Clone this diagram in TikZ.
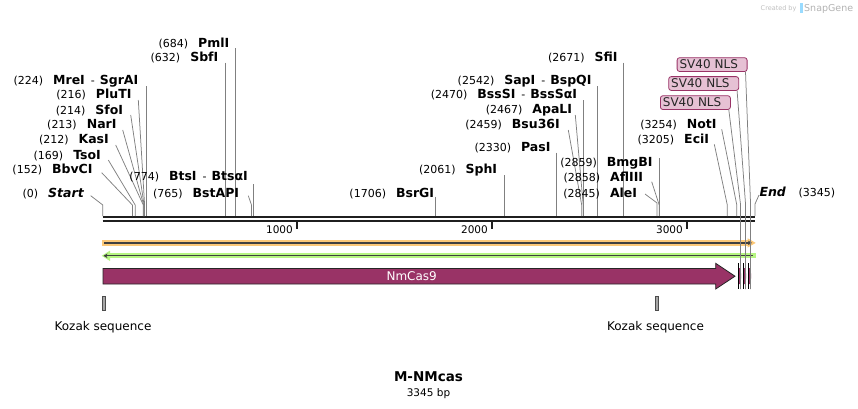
\documentclass[tikz,border=0pt]{standalone}
\usepackage{fontspec}
\setmainfont{DejaVu Sans}
\usetikzlibrary{arrows.meta}
\definecolor{maroon}{RGB}{153,51,102}
\definecolor{nlspink}{RGB}{230,193,212}
\definecolor{orangebar}{RGB}{252,200,120}
\definecolor{greenbar}{RGB}{182,245,130}
\newcommand\enzN{\fontsize{11}{13}\selectfont}
\newcommand\enzB{\fontsize{12.5}{14}\selectfont\bfseries}
\newcommand\enzL[2]{{\enzN(#1)}\hspace{10pt}{\enzB #2}}
\newcommand\enzD[3]{{\enzN(#1)}\hspace{10pt}{\enzB #2}\hspace{6pt}{\enzN-}\hspace{5pt}{\enzB #3}}
\begin{document}
\begin{tikzpicture}[x=1pt,y=-1pt,
  lline/.style={draw=black!50, line width=0.75pt},
  enz/.style={anchor=base east, inner sep=0pt},
  bb/.style={draw=black!88, line width=2.5pt},
  nlsbox/.style={draw=maroon, fill=nlspink, rounded corners=2.5pt, line width=0.8pt,
     inner xsep=2.5pt, inner ysep=0pt, text width=65pt, align=left,
     minimum height=13.8pt, anchor=north west, font=\fontsize{12}{14}\selectfont, text=black!85},
  kozak/.style={draw=black!70, fill=black!35, line width=0.7pt, minimum width=2.7pt,
     minimum height=14pt, inner sep=0pt},
  featlbl/.style={anchor=base, inner sep=0pt, font=\fontsize{12}{14}\selectfont}]
\useasboundingbox (0,0) rectangle (858,408);

% watermark
\node[anchor=base west, inner sep=0pt, text=black!25, font=\fontsize{6.5}{8}\selectfont] (wm1) at (760.5,10) {Created by};
\fill[blue!35!cyan!40] (799.5,3) rectangle (802.5,12.5);
\node[anchor=base west, inner sep=0pt, text=black!30, font=\fontsize{9.5}{11}\selectfont] (wm2) at (804,11) {SnapGene};

% backbone
\coordinate (bbL) at (102.5,217.2);
\coordinate (bbR) at (755,217.2);
\draw[bb] (bbL) -- (bbR);
\draw[bb] (102.5,221.2) -- (755,221.2);

% ticks
\foreach \x/\l in {297/1000, 492/2000, 687/3000}{
  \draw[line width=2pt, black!88] (\x,222) -- (\x,229);
  \node[anchor=base east, inner sep=0pt, font=\fontsize{10.5}{12}\selectfont] at (\x-4,233.3) {\l};
}

% enzyme labels (left)
\node[enz] (pml) at (229.5,47) {\enzL{684}{PmlI}};
\draw[lline] (235.7,48) -- (235.7,216);
\node[enz] (sbf) at (218.5,61.4) {\enzL{632}{SbfI}};
\draw[lline] (225.5,62.7) -- (225.5,216);
\node[enz] (mre) at (138.5,84) {\enzD{224}{MreI}{SgrAI}};
\draw[lline] (146,86) -- (146,216);
\node[enz] (plu) at (131.7,98) {\enzL{216}{PluTI}};
\draw[lline] (138.3,100) -- (144.6,205) -- (144.6,216);
\node[enz] (sfo) at (123.3,114) {\enzL{214}{SfoI}};
\draw[lline] (130.7,115) -- (144.1,205) -- (144.1,216);
\node[enz] (nar) at (116.7,128) {\enzL{213}{NarI}};
\draw[lline] (122.7,130) -- (143.7,205) -- (143.7,216);
\node[enz] (kas) at (109,143) {\enzL{212}{KasI}};
\draw[lline] (115.7,145) -- (143.3,205) -- (143.3,216);
\node[enz] (tso) at (101,159) {\enzL{169}{TsoI}};
\draw[lline] (108.3,160) -- (135.2,205) -- (135.2,216);
\node[enz] (bbv) at (92.7,173) {\enzL{152}{BbvCI}};
\draw[lline] (101.7,172.7) -- (132.4,205) -- (132.4,216);
\node[enz] (start) at (84,197) {{\enzN(0)}\hspace{10pt}{\enzB\itshape Start}};
\draw[lline] (90.7,195.7) -- (102.8,205) -- (102.8,216);
\node[enz] (bts) at (248,180.4) {\enzD{774}{BtsI}{BtsαI}};
\draw[lline] (253.2,184) -- (253.2,216);
\node[enz] (bst) at (239.3,197) {\enzL{765}{BstAPI}};
\draw[lline] (248.3,195.7) -- (251.5,205) -- (251.5,216);

% enzyme labels (middle)
\node[enz] (sfi) at (617.7,61.4) {\enzL{2671}{SfiI}};
\draw[lline] (623.2,62.7) -- (623.2,216);
\node[enz] (sap) at (591.7,84) {\enzD{2542}{SapI}{BspQI}};
\draw[lline] (597.7,86) -- (597.7,216);
\node[enz] (bss) at (577.3,98) {\enzD{2470}{BssSI}{BssSαI}};
\draw[lline] (583.8,100) -- (583.8,216);
\node[enz] (apa) at (572.3,113.8) {\enzL{2467}{ApaLI}};
\draw[lline] (575.3,115) -- (583.2,205) -- (583.2,216);
\node[enz] (bsu) at (560,128) {\enzL{2459}{Bsu36I}};
\draw[lline] (568.3,130) -- (581.7,205) -- (581.7,216);
\node[enz] (pas) at (550.7,151.4) {\enzL{2330}{PasI}};
\draw[lline] (556.6,152.7) -- (556.6,216);
\node[enz] (sph) at (497.3,173) {\enzL{2061}{SphI}};
\draw[lline] (504.2,175) -- (504.2,216);
\node[enz] (bsr) at (434.3,197) {\enzL{1706}{BsrGI}};
\draw[lline] (435.2,196.7) -- (435.2,216);
\node[enz] (bmg) at (652.7,166.4) {\enzL{2859}{BmgBI}};
\draw[lline] (659.6,158.3) -- (659.6,216);
\node[enz] (afl) at (643.3,181.4) {\enzL{2858}{AflIII}};
\draw[lline] (651.7,181.7) -- (659.2,205) -- (659.2,216);
\node[enz] (ale) at (637.3,197) {\enzL{2845}{AleI}};
\draw[lline] (645,194) -- (657.1,203) -- (657.1,216);

% enzyme labels (right)
\node[enz] (not) at (716.7,128.7) {\enzL{3254}{NotI}};
\draw[lline] (721.7,129.3) -- (736.8,205) -- (736.8,216);
\node[enz] (eci) at (709.3,143.7) {\enzL{3205}{EciI}};
\draw[lline] (714.3,144.3) -- (727.3,205) -- (727.3,216);
\node[anchor=base west, inner sep=0pt, font=\enzB\itshape] (endl) at (759.3,196.4) {End};
\node[anchor=base west, inner sep=0pt, font=\enzN] (endn) at (798.3,196.4) {(3345)};
\draw[lline] (759,195) -- (755,204) -- (755,216);

% orange strand arrow
\fill[orangebar] (102,240.3) rectangle (748,245.5);
\fill[orangebar] (747.7,238.3) -- (755.7,242.9) -- (747.7,247.5) -- cycle;
\draw[line width=1.3pt, black!75, -{Stealth[length=4pt,width=4.5pt]}] (104,242.9) -- (752,242.9);

% green strand arrow
\fill[greenbar] (109,253.2) rectangle (755.7,258.4);
\fill[greenbar] (110,250.6) -- (101.7,255.8) -- (110,261) -- cycle;
\draw[line width=1.3pt, black!75, {Stealth[length=4pt,width=4.5pt]}-] (103.5,255.8) -- (753,255.8);

% NmCas9 feature
\draw[fill=maroon, draw=black!85, line width=0.8pt]
  (103,268.5) -- (715.7,268.5) -- (715.7,263.3) -- (735,276.2) -- (715.7,289)
  -- (715.7,284) -- (103,284) -- cycle;
\node[text=white, font=\fontsize{12}{14}\selectfont, inner sep=0pt] (cas) at (411.7,276.2) {NmCas9};

% SV40 NLS features
\foreach \x in {738.3, 743.3, 748.3}{
  \fill[maroon] (\x,268) -- (\x+1.8,268) .. controls (\x+3.2,272) and (\x+3.2,280) .. (\x+1.8,284) -- (\x,284) -- cycle;
  \draw[black, line width=0.9pt] (\x,263.3) -- (\x,289);
}

% SV40 NLS labels
\node[nlsbox] (nls1) at (676.7,57.3) {SV40 NLS};
\node[nlsbox] (nls2) at (668.3,76.2) {SV40 NLS};
\node[nlsbox] (nls3) at (660,95.3) {SV40 NLS};
\draw[lline] (nls1.south east) ++(-2,0) -- (750.6,205) -- (750.6,289);
\draw[lline] (nls2.south east) ++(-2,0) -- (745.6,205) -- (745.6,289);
\draw[lline] (nls3.south east) ++(-2,0) -- (740.6,205) -- (740.6,289);

% Kozak sequences
\node[kozak] (koz1) at (103.7,303.7) {};
\node[featlbl] (kozl1) at (103,330.3) {Kozak sequence};
\node[kozak] (koz2) at (656.8,303.7) {};
\node[featlbl] (kozl2) at (655.5,330.3) {Kozak sequence};

% title
\node[anchor=base, inner sep=0pt, font=\fontsize{13.5}{16}\selectfont\bfseries] (title) at (428.5,381.5) {M-NMcas};
\node[anchor=base, inner sep=0pt, font=\fontsize{10.5}{12}\selectfont] (bp) at (428.5,396) {3345 bp};
\end{tikzpicture}
\end{document}
